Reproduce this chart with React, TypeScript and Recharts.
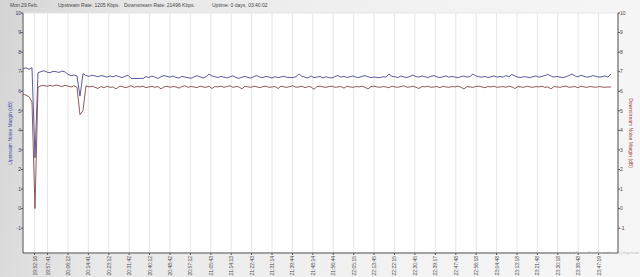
import React from 'react';
import { LineChart, Line, XAxis, YAxis, CartesianGrid, Label } from 'recharts';

// sampling grid, seconds since midnight
const sampleStart = 71247;
const sampleStep = 75;

const upstream = [
  7.15, 7.2, 7.12, 7.2, 2.6, 6.95, 7.0, 7.05, 6.98, 6.94,
  7.02, 7.0, 6.96, 7.03, 6.99, 6.86, 6.8, 6.83, 6.78, 5.75,
  6.9, 6.8, 6.76, 6.82, 6.78, 6.74, 6.8, 6.77, 6.72, 6.78,
  6.74, 6.8, 6.75, 6.7, 6.76, 6.82, 6.66, 6.65, 6.65, 6.66,
  6.65, 6.75, 6.7, 6.78, 6.72, 6.65, 6.74, 6.8, 6.76, 6.72,
  6.78, 6.7, 6.68, 6.76, 6.72, 6.7, 6.66, 6.73, 6.79, 6.74,
  6.68, 6.74, 6.88, 6.78, 6.74, 6.7, 6.76, 6.72, 6.68, 6.74,
  6.79, 6.7, 6.66, 6.72, 6.76, 6.7, 6.68, 6.75, 6.8, 6.72,
  6.7, 6.76, 6.72, 6.68, 6.74, 6.7, 6.73, 6.77, 6.71, 6.7,
  6.7, 6.74, 6.88, 6.76, 6.72, 6.68, 6.78, 6.7, 6.72, 6.76,
  6.68, 6.74, 6.7, 6.68, 6.75, 6.8, 6.72, 6.76, 6.7, 6.74,
  6.78, 6.72, 6.7, 6.76, 6.8, 6.74, 6.7, 6.73, 6.7, 6.7,
  6.74, 6.72, 6.88, 6.76, 6.74, 6.7, 6.78, 6.73, 6.7, 6.76,
  6.82, 6.75, 6.72, 6.78, 6.74, 6.7, 6.76, 6.8, 6.73, 6.7,
  6.74, 6.78, 6.72, 6.76, 6.72, 6.7, 6.74, 6.78, 6.72, 6.75,
  6.88, 6.78, 6.74, 6.72, 6.76, 6.7, 6.74, 6.78, 6.72, 6.76,
  6.72, 6.8, 6.74, 6.86, 6.78, 6.72, 6.7, 6.75, 6.72, 6.7,
  6.74, 6.78, 6.72, 6.76, 6.8, 6.86, 6.78, 6.72, 6.76, 6.72,
  6.7, 6.74, 6.8, 6.88, 6.78, 6.74, 6.82, 6.76, 6.72, 6.74,
  6.8, 6.76, 6.72, 6.74, 6.78, 6.72, 6.88,
];

const downstream = [
  5.85, 5.8, 5.72, 5.45, 0, 6.2, 6.28, 6.3, 6.25, 6.3,
  6.26, 6.32, 6.28, 6.24, 6.3, 6.26, 6.22, 6.28, 6.2, 4.8,
  5.0, 6.28, 6.22, 6.26, 6.2, 6.14, 6.24, 6.18, 6.26, 6.2,
  6.22, 6.12, 6.24, 6.26, 6.18, 6.22, 6.28, 6.2, 6.24, 6.22,
  6.26, 6.18, 6.22, 6.25, 6.2, 6.24, 6.12, 6.22, 6.26, 6.2,
  6.24, 6.22, 6.16, 6.24, 6.28, 6.2, 6.24, 6.22, 6.18, 6.26,
  6.22, 6.2, 6.26, 6.14, 6.24, 6.22, 6.26, 6.2, 6.24, 6.28,
  6.2, 6.24, 6.22, 6.12, 6.26, 6.22, 6.2, 6.26, 6.22, 6.18,
  6.24, 6.26, 6.2, 6.22, 6.24, 6.14, 6.26, 6.22, 6.2, 6.24,
  6.28, 6.2, 6.22, 6.26, 6.18, 6.24, 6.22, 6.1, 6.24, 6.26,
  6.22, 6.2, 6.24, 6.26, 6.2, 6.22, 6.24, 6.16, 6.26, 6.22,
  6.2, 6.24, 6.22, 6.26, 6.2, 6.12, 6.24, 6.26, 6.22, 6.2,
  6.24, 6.22, 6.18, 6.26, 6.22, 6.2, 6.24, 6.28, 6.2, 6.22,
  6.26, 6.2, 6.14, 6.24, 6.22, 6.26, 6.2, 6.22, 6.24, 6.18,
  6.26, 6.22, 6.2, 6.24, 6.22, 6.26, 6.2, 6.12, 6.24, 6.22,
  6.2, 6.24, 6.26, 6.22, 6.18, 6.24, 6.22, 6.26, 6.2, 6.22,
  6.24, 6.2, 6.26, 6.22, 6.14, 6.24, 6.22, 6.2, 6.26, 6.22,
  6.2, 6.24, 6.22, 6.26, 6.2, 6.22, 6.12, 6.24, 6.22, 6.2,
  6.24, 6.26, 6.2, 6.22, 6.24, 6.18, 6.26, 6.22, 6.2, 6.24,
  6.22, 6.2, 6.24, 6.22, 6.2, 6.22, 6.21,
];

const timeTicks = [
  '19:52:16', '19:57:41', '20:06:12', '20:14:41', '20:23:12', '20:31:42', '20:40:12',
  '20:48:42', '20:57:12', '21:05:43', '21:14:13', '21:22:43', '21:31:14', '21:39:44',
  '21:48:14', '21:56:44', '22:05:15', '22:13:45', '22:22:15', '22:30:45', '22:39:17',
  '22:47:48', '22:56:18', '23:04:48', '23:13:18', '23:21:48', '23:30:18', '23:38:48',
  '23:47:19',
];

const yTicks = [-1, 0, 1, 2, 3, 4, 5, 6, 7, 8, 9, 10];

const header = [
  { x: 10, text: 'Mon 29 Feb.' },
  { x: 58, text: 'Upstream Rate: 1205 Kbps.' },
  { x: 124, text: 'Downstream Rate: 21496 Kbps.' },
  { x: 212, text: 'Uptime: 0 days, 03:40:02' },
];

const toSec = (s: string) => {
  const [h, m, sec] = s.split(':').map(Number);
  return h * 3600 + m * 60 + sec;
};
const fmt = (v: number) => {
  const t = Math.round(v);
  const p = (n: number) => String(n).padStart(2, '0');
  return `${p(Math.floor(t / 3600))}:${p(Math.floor((t % 3600) / 60))}:${p(t % 60)}`;
};

const chartData = upstream.map((u, i) => ({
  t: sampleStart + i * sampleStep,
  up: u,
  down: downstream[i],
}));

const FONT = '"Liberation Sans", Arial, sans-serif';

function TimeTick({ x, y, payload }: any) {
  return (
    <text
      x={x}
      y={y}
      transform={`rotate(-90, ${x}, ${y})`}
      textAnchor="end"
      dominantBaseline="central"
      fontSize={5}
      fontFamily={FONT}
      fill="#4a4a4a"
    >
      {fmt(payload.value)}
    </text>
  );
}

export default function App() {
  return (
    <div style={{
      position: 'absolute', left: 0, top: 0, width: 640, height: 277,
      background: 'linear-gradient(100deg, #d4d4d4 0%, #e8e8e8 20%, #f2f2f2 60%, #f6f6f6 100%)',
      fontFamily: FONT,
    }}>
      <LineChart
        width={640}
        height={277}
        data={chartData}
        margin={{ top: 13, right: 0, left: 0, bottom: 0 }}
        style={{ fontFamily: FONT }}
      >
        <CartesianGrid stroke="#e6e6e6" fill="#ffffff" />
        <XAxis
          dataKey="t"
          type="number"
          domain={[71247, 86124]}
          ticks={timeTicks.map(toSec)}
          interval={0}
          height={24}
          tick={<TimeTick />}
          tickSize={2}
          tickMargin={1}
          stroke="#555"
        />
        <YAxis
          yAxisId="left"
          width={23}
          domain={[-2.27, 10]}
          ticks={yTicks}
          interval={0}
          tickSize={2}
          tickMargin={0}
          tick={{ fontSize: 5, fill: '#33336a' }}
          stroke="#555"
        >
          <Label
            value="Upstream Noise Margin (dB)"
            angle={-90}
            position="insideLeft"
            offset={10}
            style={{ textAnchor: 'middle', fontSize: 5, fill: '#4a4aa8' }}
          />
        </YAxis>
        <YAxis
          yAxisId="right"
          orientation="right"
          width={22}
          domain={[-2.27, 10]}
          ticks={yTicks}
          interval={0}
          tickSize={2}
          tickMargin={0}
          tick={{ fontSize: 5, fill: '#553838' }}
          stroke="#555"
        >
          <Label
            value="Downstream Noise Margin (dB)"
            angle={90}
            position="insideRight"
            offset={9}
            style={{ textAnchor: 'middle', fontSize: 5, fill: '#a84040' }}
          />
        </YAxis>
        <Line
          yAxisId="left"
          dataKey="up"
          type="linear"
          stroke="#4a4a94"
          strokeWidth={0.9}
          dot={false}
          isAnimationActive={false}
        />
        <Line
          yAxisId="right"
          dataKey="down"
          type="linear"
          stroke="#84474a"
          strokeWidth={0.9}
          dot={false}
          isAnimationActive={false}
        />
      </LineChart>
      <svg width={640} height={277} style={{ position: 'absolute', left: 0, top: 0, pointerEvents: 'none' }}>
        {header.map((h) => (
          <text key={h.text} x={h.x} y={6.5} fontSize={5} fontFamily={FONT} fill="#444">{h.text}</text>
        ))}
        <text x={616} y={254} fontSize={4} fontFamily={FONT} fill="#bbb" textAnchor="end">(c) RouterStatsLite v 2.x.x</text>
        <text x={618.5} y={254} fontSize={3.2} fontFamily={FONT} fill="#bbb">(c) Sagemcom</text>
      </svg>
    </div>
  );
}
